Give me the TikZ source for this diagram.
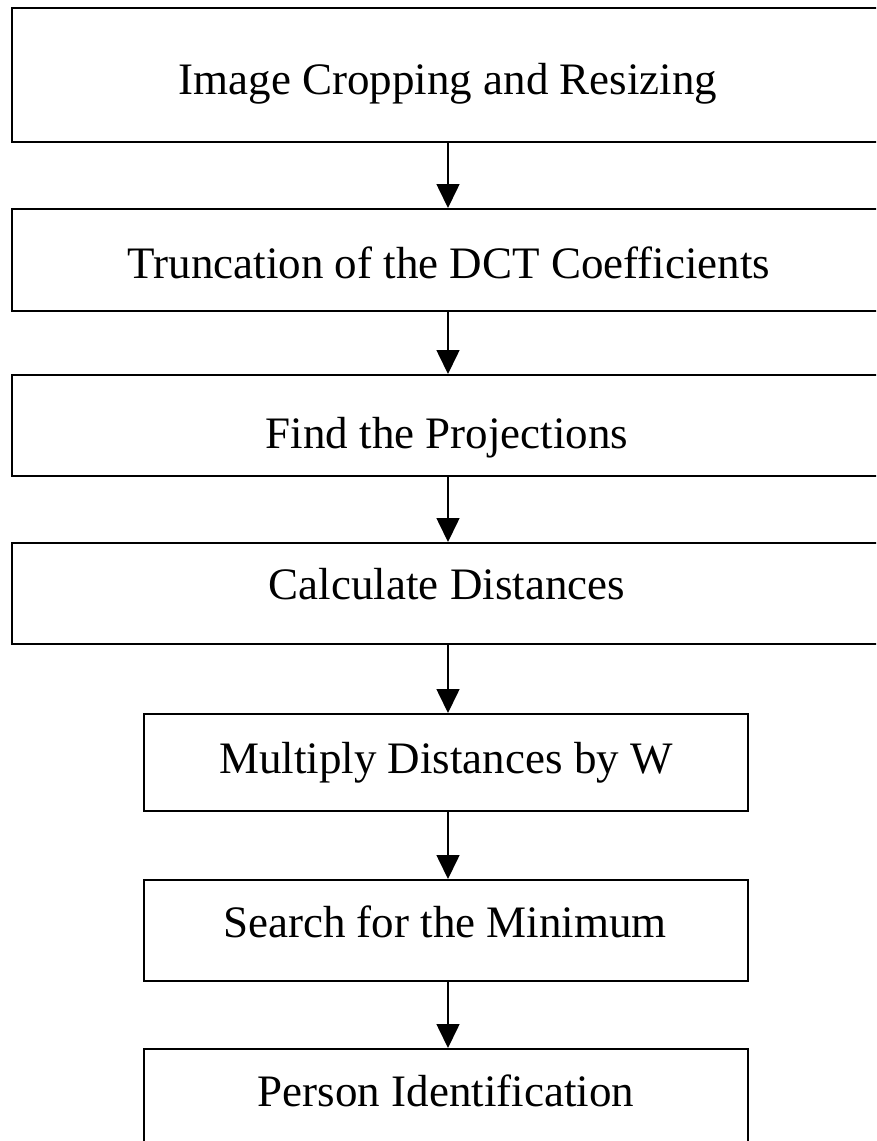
\documentclass[tikz,border=0pt]{standalone}
\usepackage{fontspec}
\setmainfont{Liberation Serif}
\usetikzlibrary{arrows.meta}
\begin{document}
\begin{tikzpicture}[x=1pt,y=-1pt,
  stage/.style={draw=black, line width=2.4pt, minimum height=#1, inner sep=0pt, anchor=north},
  caption/.style={font=\fontsize{45}{52}\selectfont, anchor=base, inner sep=0pt},
  flow/.style={line width=1.6pt, -{Triangle[length=24pt,width=23pt]}}]
\useasboundingbox (0,0) rectangle (876,1141);
\clip (0,0) rectangle (876,1141);
% wide stages
\node[stage=134, minimum width=872] (n1) at (448,7) {};
\node[stage=102, minimum width=872] (n2) at (448,208) {};
\node[stage=101, minimum width=872] (n3) at (448,374) {};
\node[stage=101, minimum width=872] (n4) at (448,542) {};
% narrow stages
\node[stage=97, minimum width=604, line width=2pt] (n5) at (446,713) {};
\node[stage=101, minimum width=604, line width=2pt] (n6) at (446,879) {};
\node[stage=101, minimum width=604, line width=2pt] (n7) at (446,1048) {};
% captions
\node[caption] (t1) at (448,94) {Image Cropping and Resizing};
\node[caption] (t2) at (449,278) {Truncation of the DCT Coefficients};
\node[caption] (t3) at (447,448) {Find the Projections};
\node[caption] (t4) at (447,599) {Calculate Distances};
\node[caption] (t5) at (446,773) {Multiply Distances by W};
\node[caption] (t6) at (445,937) {Search for the Minimum};
\node[caption] (t7) at (446,1106) {Person Identification};
% connectors
\foreach \a/\b in {n1/n2,n2/n3,n3/n4,n4/n5,n5/n6,n6/n7}
  \draw[flow] (\a.south -| 448,0) -- (\b.north -| 448,0);
\end{tikzpicture}
\end{document}
